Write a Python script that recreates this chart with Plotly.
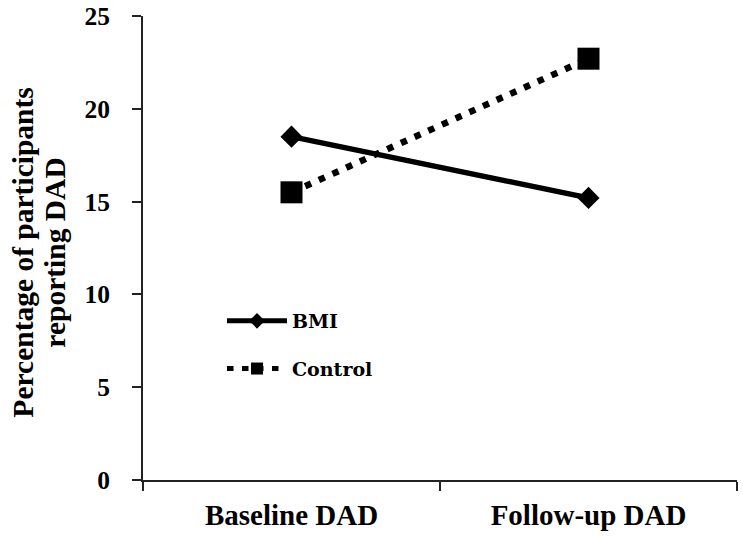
import plotly.graph_objects as go

categories = ["Baseline DAD", "Follow-up DAD"]
bmi = [18.5, 15.2]
control = [15.5, 22.7]
y_ticks = [0, 5, 10, 15, 20, 25]
title_lines = ["Percentage of participants", "reporting DAD"]

FONT = "Liberation Serif"
LEG_FONT = "DejaVu Serif"

fig = go.Figure()
fig.add_trace(go.Scatter(
    x=categories, y=bmi, name="<b>BMI</b>", mode="lines+markers",
    line=dict(color="black", width=5.5),
    marker=dict(symbol="diamond", size=17, color="black"),
    legendgroup="a",
))
fig.add_trace(go.Scatter(
    x=categories, y=control, name="<b>Control</b>", mode="lines+markers",
    line=dict(color="black", width=6.5, dash="6.5px,8.5px"),
    marker=dict(symbol="square", size=22, color="black"),
    legendgroup="b",
))

# y-axis title as two rotated lines (tighter line spacing than plotly's <br>)
title_x_px = [23, 55]
for line, xp in zip(title_lines, title_x_px):
    fig.add_annotation(
        text="<b>" + line + "</b>", textangle=-90, showarrow=False,
        xref="paper", yref="paper",
        x=(xp - 143) / 594, y=0.49, xanchor="center", yanchor="middle",
        font=dict(family=FONT, size=29.5, color="black"),
    )

fig.update_layout(
    width=743, height=539,
    margin=dict(l=143, r=6, t=16, b=59),
    plot_bgcolor="white", paper_bgcolor="white",
    font=dict(family=FONT, color="black", size=20),
    showlegend=True,
    legend=dict(
        x=0.133, y=0.291, xanchor="left", yanchor="middle",
        font=dict(family=LEG_FONT, size=19, color="black"),
        tracegroupgap=20, itemwidth=60, itemsizing="constant",
        bgcolor="rgba(0,0,0,0)",
    ),
    xaxis=dict(
        type="category", range=[-0.5, 1.5], tickson="boundaries",
        showline=True, linecolor="#222", linewidth=2,
        ticks="outside", ticklen=9, tickwidth=2, tickcolor="#222",
        showgrid=False, zeroline=False, automargin=False,
        ticklabeloverflow="allow", ticklabelstandoff=8,
        tickfont=dict(family=FONT, size=29, color="black"),
        tickvals=categories, ticktext=["<b>" + c + "</b>" for c in categories],
    ),
    yaxis=dict(
        range=[0, 25], tickvals=y_ticks,
        ticktext=["<b>%d</b>" % v for v in y_ticks],
        showline=True, linecolor="#222", linewidth=2,
        ticks="outside", ticklen=9, tickwidth=2, tickcolor="#222",
        showgrid=False, zeroline=False, automargin=False,
        ticklabeloverflow="allow", ticklabelstandoff=17,
        tickfont=dict(family=FONT, size=25.5, color="black"),
    ),
)

fig.write_html("out.html", config={"displayModeBar": False},
               post_script="document.body.style.margin='0';")
